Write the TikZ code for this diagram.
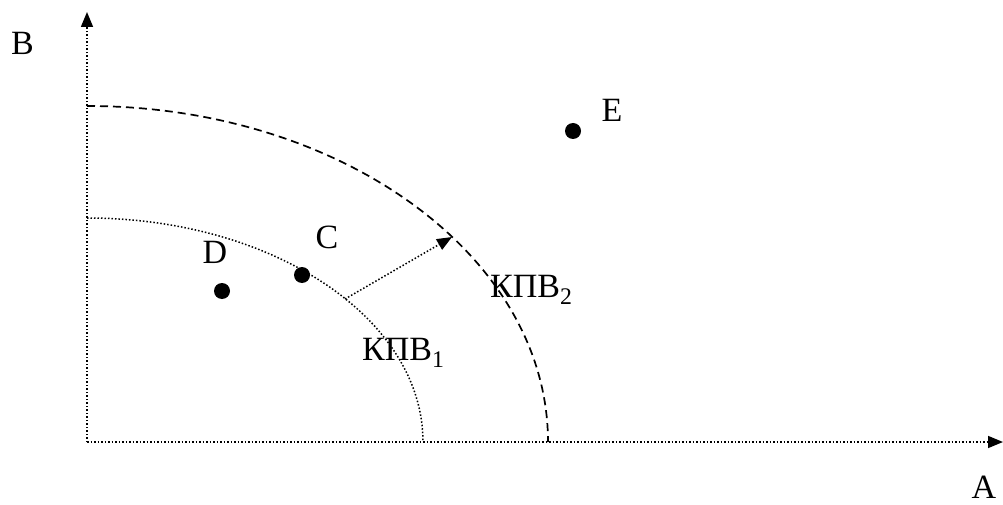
\documentclass[tikz,border=0pt]{standalone}
\usepackage{fontspec}
\setmainfont{Liberation Serif}
\usetikzlibrary{arrows.meta}
\begin{document}
\begin{tikzpicture}[x=1pt,y=1pt,
  axis/.style={line width=1.5pt,dotted,-{Triangle[length=15pt,width=12pt]}},
  arcone/.style={line width=1.5pt,dotted},
  arctwo/.style={line width=1.7pt,dash pattern=on 8pt off 5pt},
  shiftarrow/.style={line width=1.5pt,dotted,-{Triangle[length=15pt,width=12pt]}},
  pt/.style={circle,fill=black,inner sep=0pt,minimum size=16pt},
  lbl/.style={font=\fontsize{34}{34}\selectfont,inner sep=0pt}]
\useasboundingbox (0,0) rectangle (1003,504);
\coordinate (O) at (87,62);
\coordinate (Ytop) at (87,492);
\coordinate (Xend) at (1003,62);
\coordinate (I0) at (87,286);
\coordinate (J0) at (87,398);
\coordinate (P1) at (345,205);
\coordinate (P2) at (452,267);
\draw[axis] (O) -- (Ytop);
\draw[axis] (O) -- (Xend);
\draw[arcone] (I0) arc[start angle=90,end angle=0,x radius=336,y radius=224];
\draw[arctwo] (J0) arc[start angle=90,end angle=0,x radius=461,y radius=336];
\draw[shiftarrow] (P1) -- (P2);
\node[pt] (D) at (222,213) {};
\node[pt] (C) at (302,229) {};
\node[pt] (E) at (573,373) {};
\node[lbl] (lB) at (22.5,460.5) {B};
\node[lbl] (lA) at (984,17) {A};
\node[lbl] (lC) at (327,267) {C};
\node[lbl] (lD) at (215,252) {D};
\node[lbl] (lE) at (612,394) {E};
\node[lbl,anchor=base west] (k1) at (362,144) {КПВ\textsubscript{1}};
\node[lbl,anchor=base west] (k2) at (490,207) {КПВ\textsubscript{2}};
\end{tikzpicture}
\end{document}
